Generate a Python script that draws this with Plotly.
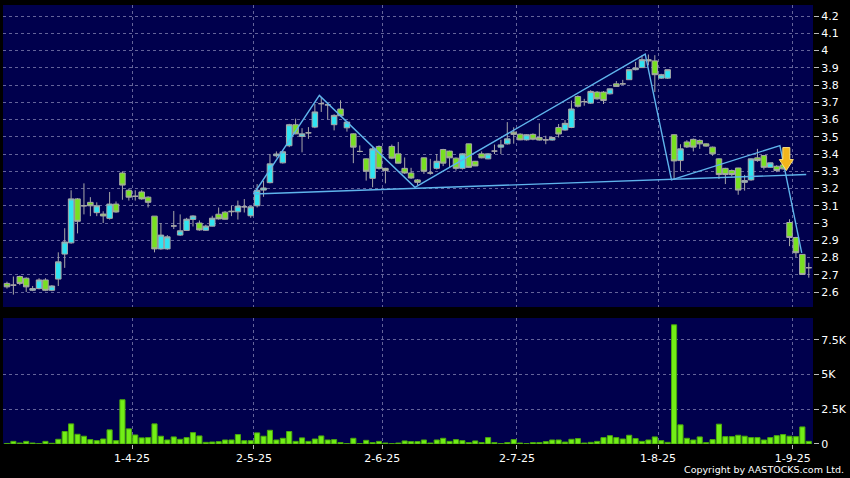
import pandas as pd
import plotly.graph_objects as go

# ---------------- data ----------------
hk_holidays = ["2025-04-04", "2025-04-18", "2025-04-21", "2025-05-01", "2025-05-05", "2025-07-01"]
dates = [d.strftime("%Y-%m-%d") for d in pd.bdate_range("2025-03-05", "2025-09-04")
         if d.strftime("%Y-%m-%d") not in hk_holidays]

open_ = [2.65, 2.64, 2.69, 2.68, 2.61, 2.62, 2.67, 2.61, 2.675, 2.82,
         2.885, 3.14, 3.10, 3.12, 3.06, 3.052, 3.027, 3.11, 3.29, 3.19,
         3.155, 3.18, 3.15, 3.04, 2.85, 2.85, 2.983, 2.93, 2.957, 3.021,
         3.0, 2.958, 2.982, 3.051, 3.063, 3.065, 3.065, 3.094, 3.042, 3.10,
         3.191, 3.234, 3.39, 3.349, 3.448, 3.57, 3.502, 3.523, 3.556, 3.692,
         3.685, 3.57, 3.661, 3.552, 3.517, 3.415, 3.372, 3.259, 3.444, 3.317,
         3.444, 3.401, 3.317, 3.29, 3.25, 3.378, 3.29, 3.317, 3.426, 3.417,
         3.376, 3.317, 3.459, 3.358, 3.401, 3.372, 3.417, 3.44, 3.459, 3.527,
         3.515, 3.482, 3.514, 3.496, 3.482, 3.481, 3.554, 3.539, 3.554, 3.733,
         3.704, 3.695, 3.759, 3.759, 3.749, 3.807, 3.807, 3.831, 3.889, 3.901,
         3.947, 3.94, 3.84, 3.84, 3.512, 3.362, 3.47, 3.485, 3.479, 3.459,
         3.44, 3.372, 3.317, 3.304, 3.319, 3.236, 3.25, 3.378, 3.391, 3.323,
         3.329, 3.337, 3.003, 2.916, 2.818, 2.741]
high = [2.66, 2.69, 2.695, 2.685, 2.635, 2.68, 2.68, 2.64, 2.83, 2.97,
        3.19, 3.145, 3.23, 3.15, 3.12, 3.068, 3.18, 3.125, 3.30, 3.20,
        3.19, 3.19, 3.155, 3.04, 3.00, 2.93, 3.07, 3.05, 3.03, 3.045,
        3.015, 2.99, 3.042, 3.09, 3.07, 3.10, 3.13, 3.139, 3.10, 3.226,
        3.245, 3.40, 3.415, 3.42, 3.575, 3.605, 3.55, 3.556, 3.69, 3.73,
        3.70, 3.63, 3.712, 3.59, 3.52, 3.45, 3.375, 3.44, 3.45, 3.32,
        3.455, 3.47, 3.38, 3.32, 3.255, 3.38, 3.372, 3.40, 3.43, 3.42,
        3.38, 3.405, 3.46, 3.36, 3.415, 3.405, 3.455, 3.483, 3.585, 3.555,
        3.52, 3.515, 3.52, 3.578, 3.506, 3.50, 3.574, 3.597, 3.71, 3.74,
        3.72, 3.77, 3.765, 3.765, 3.78, 3.823, 3.83, 3.89, 3.934, 3.973,
        3.977, 3.973, 3.865, 3.89, 3.515, 3.457, 3.48, 3.49, 3.485, 3.462,
        3.443, 3.375, 3.32, 3.31, 3.32, 3.279, 3.375, 3.43, 3.395, 3.35,
        3.335, 3.34, 3.022, 2.92, 2.82, 2.77]
low = [2.62, 2.585, 2.64, 2.60, 2.605, 2.615, 2.605, 2.605, 2.635, 2.74,
       2.88, 2.94, 3.05, 3.04, 3.04, 3.0, 3.02, 3.06, 3.135, 3.13,
       3.13, 3.135, 3.09, 2.83, 2.845, 2.845, 2.965, 2.925, 2.955, 2.98,
       2.955, 2.955, 2.98, 3.02, 3.02, 3.04, 3.02, 3.061, 3.03, 3.09,
       3.152, 3.23, 3.38, 3.345, 3.44, 3.515, 3.41, 3.488, 3.55, 3.644,
       3.60, 3.537, 3.618, 3.53, 3.347, 3.41, 3.246, 3.207, 3.31, 3.23,
       3.37, 3.345, 3.285, 3.255, 3.22, 3.285, 3.28, 3.31, 3.33, 3.323,
       3.304, 3.31, 3.32, 3.33, 3.375, 3.37, 3.40, 3.40, 3.455, 3.46,
       3.48, 3.478, 3.48, 3.478, 3.457, 3.478, 3.496, 3.535, 3.55, 3.67,
       3.68, 3.69, 3.715, 3.69, 3.745, 3.79, 3.80, 3.83, 3.885, 3.90,
       3.914, 3.759, 3.835, 3.835, 3.25, 3.30, 3.435, 3.415, 3.43, 3.443,
       3.39, 3.255, 3.226, 3.27, 3.164, 3.188, 3.245, 3.355, 3.31, 3.32,
       3.295, 3.31, 2.866, 2.803, 2.70, 2.683]
close = [2.63, 2.64, 2.65, 2.63, 2.62, 2.67, 2.61, 2.635, 2.775, 2.89,
         3.14, 3.01, 3.10, 3.10, 3.10, 3.041, 3.11, 3.064, 3.22, 3.15,
         3.155, 3.14, 3.12, 2.85, 2.93, 2.92, 2.983, 2.955, 3.022, 3.041,
         2.96, 2.982, 3.028, 3.024, 3.022, 3.068, 3.098, 3.094, 3.094, 3.19,
         3.203, 3.343, 3.40, 3.413, 3.57, 3.517, 3.517, 3.523, 3.644, 3.692,
         3.685, 3.624, 3.622, 3.585, 3.44, 3.415, 3.30, 3.43, 3.317, 3.304,
         3.376, 3.347, 3.29, 3.261, 3.236, 3.30, 3.29, 3.358, 3.347, 3.378,
         3.317, 3.401, 3.323, 3.331, 3.378, 3.401, 3.417, 3.453, 3.488, 3.514,
         3.482, 3.512, 3.486, 3.481, 3.482, 3.496, 3.516, 3.578, 3.661, 3.677,
         3.704, 3.763, 3.72, 3.71, 3.778, 3.792, 3.807, 3.889, 3.899, 3.947,
         3.94, 3.86, 3.86, 3.889, 3.36, 3.43, 3.441, 3.44, 3.459, 3.446,
         3.401, 3.281, 3.281, 3.281, 3.191, 3.246, 3.372, 3.362, 3.323, 3.349,
         3.304, 3.314, 2.916, 2.828, 2.702, 2.741]
volume = [40, 190, 70, 190, 70, 25, 190, 50, 340, 900,
          1450, 700, 560, 315, 240, 360, 1020, 240, 3190, 1090,
          650, 440, 460, 1450, 560, 290, 510, 340, 460, 820,
          580, 120, 145, 170, 290, 290, 680, 240, 240, 800,
          560, 990, 290, 410, 900, 190, 440, 190, 360, 580,
          290, 315, 100, 25, 410, 25, 265, 100, 190, 70,
          25, 70, 220, 170, 170, 290, 70, 290, 410, 190,
          315, 240, 100, 220, 100, 460, 100, 25, 100, 315,
          70, 25, 100, 100, 170, 290, 290, 140, 340, 390,
          70, 120, 190, 460, 600, 460, 360, 630, 390, 190,
          290, 510, 240, 120, 8590, 1380, 410, 290, 510, 100,
          315, 1430, 530, 530, 630, 560, 460, 460, 290, 460,
          600, 680, 560, 530, 1230, 190]

# pattern annotation lines (bar index, price)
zigzag_idx = [38.46, 48.7, 63.6, 99.5, 103.6, 120.5, 123.9]
zigzag_price = [3.168, 3.740, 3.207, 3.979, 3.250, 3.449, 2.827]
neck_idx = [38.46, 124.6]
neck_price = [3.168, 3.281]
signal_idx = 121.5
signal_price = 3.304

tick_dates = ["2025-04-01", "2025-05-02", "2025-06-02", "2025-07-02", "2025-08-01", "2025-09-01"]
tick_labels = ["1-4-25", "2-5-25", "2-6-25", "2-7-25", "1-8-25", "1-9-25"]
price_ticks = [2.6, 2.7, 2.8, 2.9, 3.0, 3.1, 3.2, 3.3, 3.4, 3.5, 3.6, 3.7, 3.8, 3.9, 4.0, 4.1, 4.2]
price_tick_labels = ["2.6", "2.7", "2.8", "2.9", "3", "3.1", "3.2", "3.3", "3.4", "3.5",
                     "3.6", "3.7", "3.8", "3.9", "4", "4.1", "4.2"]
vol_ticks = [0, 2500, 5000, 7500]
vol_tick_labels = ["0", "2.5K", "5K", "7.5K"]

# ---------------- figure ----------------
xi = list(range(len(dates)))
tick_pos = [dates.index(d) + 0.5 for d in tick_dates]

NAVY = "#00004d"
GRID = "#64649a"
FONT = dict(family="DejaVu Sans", size=11, color="#ffffff")

fig = go.Figure()
fig.add_trace(go.Candlestick(
    x=xi, open=open_, high=high, low=low, close=close,
    xaxis="x", yaxis="y",
    increasing=dict(fillcolor="#2fe4f2", line=dict(color="#a8a8a8", width=1)),
    decreasing=dict(fillcolor="#78e021", line=dict(color="#a8a8a8", width=1)),
    whiskerwidth=0, showlegend=False, hoverinfo="skip"))
fig.add_trace(go.Scatter(x=neck_idx, y=neck_price, mode="lines", xaxis="x", yaxis="y",
                         line=dict(color="#5fb4ec", width=1.4), showlegend=False, hoverinfo="skip"))
fig.add_trace(go.Scatter(x=zigzag_idx, y=zigzag_price, mode="lines", xaxis="x", yaxis="y",
                         line=dict(color="#5fb4ec", width=1.4), showlegend=False, hoverinfo="skip"))
fig.add_trace(go.Bar(x=xi, y=volume, xaxis="x2", yaxis="y2",
                     marker=dict(color="#72ee16", line=dict(color="#4aa80c", width=1)),
                     showlegend=False, hoverinfo="skip"))

xr = [-0.62, 125.66]
fig.update_layout(
    width=850, height=478,
    margin=dict(l=3, r=35, t=5, b=34),
    paper_bgcolor="#000000", plot_bgcolor=NAVY,
    font=FONT, showlegend=False,
    boxgap=0.14, boxgroupgap=0, bargap=0.2,
    xaxis=dict(domain=[0, 1], anchor="y", range=xr, rangeslider=dict(visible=False),
               tickvals=tick_pos, showticklabels=False, ticks="",
               showgrid=True, gridcolor=GRID, griddash="3px,3px", gridwidth=1,
               zeroline=False, showline=False, fixedrange=True),
    yaxis=dict(domain=[0.312, 1], anchor="x", side="right", range=[2.513, 4.264],
               tickvals=price_ticks, ticktext=price_tick_labels,
               ticks="outside", ticklen=5, tickcolor="#bbbbbb",
               showgrid=True, gridcolor=GRID, griddash="3px,3px", gridwidth=1,
               zeroline=False, showline=False, tickfont=FONT),
    xaxis2=dict(domain=[0, 1], anchor="y2", matches="x", range=xr,
                tickvals=tick_pos, ticktext=tick_labels,
                ticks="outside", ticklen=4, tickcolor="#bbbbbb",
                showgrid=True, gridcolor=GRID, griddash="3px,3px", gridwidth=1,
                zeroline=False, showline=False, tickfont=FONT),
    yaxis2=dict(domain=[0, 0.287], anchor="x2", side="right", range=[0, 9080],
                tickvals=vol_ticks, ticktext=vol_tick_labels,
                ticks="outside", ticklen=5, tickcolor="#bbbbbb",
                showgrid=True, gridcolor=GRID, griddash="3px,3px", gridwidth=1,
                zeroline=False, showline=False, tickfont=FONT),
)

# signal arrow (pixel-sized, anchored at data point)
fig.add_shape(type="path", xref="x", yref="y", xsizemode="pixel", ysizemode="pixel",
              xanchor=signal_idx, yanchor=signal_price,
              path="M 0,0 L -7,11 L -3.5,11 L -3.5,23 L 3.5,23 L 3.5,11 L 7,11 Z",
              fillcolor="#f3b61c", line=dict(color="#ffe27a", width=1), layer="above")

fig.add_annotation(text="Copyright by AASTOCKS.com Ltd.", xref="paper", yref="paper",
                   x=1.0406, y=-0.059, xanchor="right", yanchor="middle", showarrow=False,
                   font=dict(family="DejaVu Sans", size=9.5, color="#ffffff"))

fig.write_html("out.html", config={"displayModeBar": False},
               post_script="document.body.style.margin='0';document.body.style.overflow='hidden';")
